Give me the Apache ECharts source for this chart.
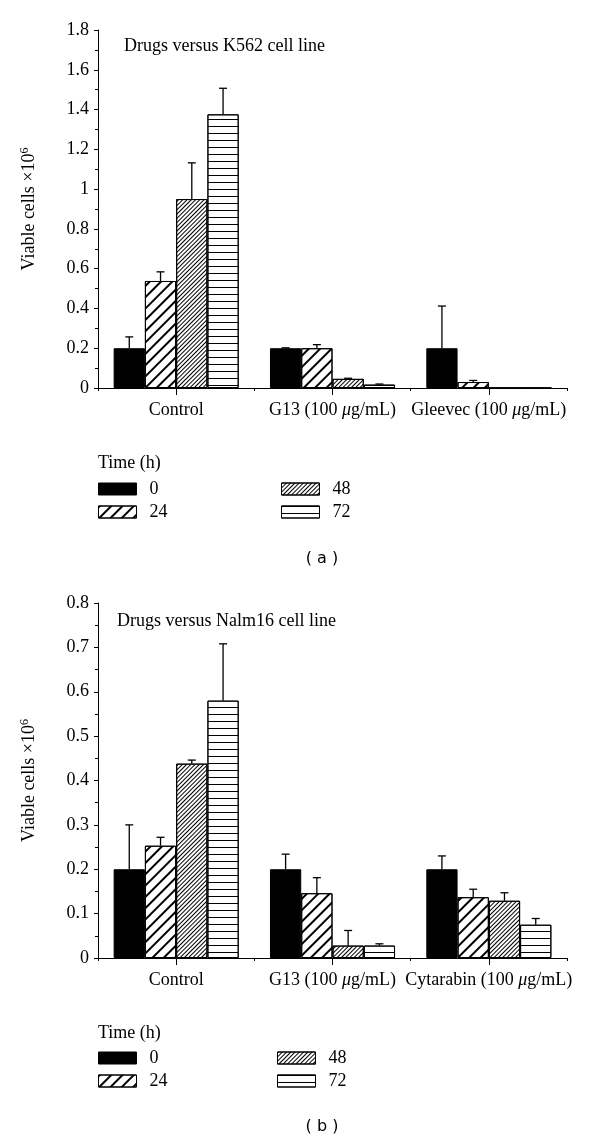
<!DOCTYPE html>
<html><head><meta charset="utf-8">
<script src="https://cdn.jsdelivr.net/npm/echarts@6/dist/echarts.min.js"></script>
<style>html,body{margin:0;padding:0;background:#fff}#c{width:600px;height:1142px}</style>
</head><body><div id="c"></div>
<script>
// ---- data ----
const categoriesA = ['Control', 'G13 (100 μg/mL)', 'Gleevec (100 μg/mL)'];
const categoriesB = ['Control', 'G13 (100 μg/mL)', 'Cytarabin (100 μg/mL)'];
const timeLabels = ['0', '24', '48', '72'];

// panel (a): K562 — bar heights per time point
const a0  = [0.2,   0.2,   0.2];
const a24 = [0.538, 0.2,   0.03];
const a48 = [0.95,  0.046, 0];
const a72 = [1.376, 0.017, 0];
// panel (a): top of error bars
const aErr0  = [0.257, 0.202, 0.412];
const aErr24 = [0.584, 0.218, 0.038];
const aErr48 = [1.132, 0.049, 0];
const aErr72 = [1.507, 0.020, 0];

// panel (b): Nalm16 — bar heights per time point
const b0  = [0.2,   0.2,   0.2];
const b24 = [0.253, 0.146, 0.137];
const b48 = [0.438, 0.028, 0.129];
const b72 = [0.58,  0.028, 0.075];
// panel (b): top of error bars
const bErr0  = [0.3,   0.234, 0.23];
const bErr24 = [0.272, 0.181, 0.155];
const bErr48 = [0.446, 0.062, 0.147];
const bErr72 = [0.708, 0.032, 0.089];

const yAxisA = {min: 0, max: 1.8, interval: 0.2};
const yAxisB = {min: 0, max: 0.8, interval: 0.1};

// ---- styling ----
const SERIF = '"Liberation Serif", "Times New Roman", serif';
const FS = 18;
const styles = [
  {color: '#000', borderColor: '#000', borderWidth: 1},
  {color: '#fff', borderColor: '#000', borderWidth: 1,
   decal: {symbol: 'rect', symbolSize: 1, dashArrayX: [1, 0], dashArrayY: [2, 6], rotation: -Math.PI / 4, color: '#000'}},
  {color: '#fff', borderColor: '#000', borderWidth: 1,
   decal: {symbol: 'rect', symbolSize: 1, dashArrayX: [1, 0], dashArrayY: [1, 2], rotation: -Math.PI / 4, color: '#000'}},
  {color: '#fff', borderColor: '#000', borderWidth: 1,
   decal: {symbol: 'rect', symbolSize: 1, dashArrayX: [1, 0], dashArrayY: [1, 6], rotation: 0, color: '#000'}}
];

function catLabel(v) { return '{n|' + v.replace('μ', '}{i|μ}{n|') + '}'; }
const catRich = {n: {fontFamily: SERIF, fontSize: FS, color: '#000'}, i: {fontFamily: SERIF, fontSize: FS, fontStyle: 'italic', color: '#000'}};

function xAxes(gi, cats) {
  return [
    {type: 'category', gridIndex: gi, data: cats, boundaryGap: true,
     axisLine: {lineStyle: {color: '#000', width: 1}},
     axisTick: {show: true, length: 3, lineStyle: {color: '#000'}},
     axisLabel: {interval: 0, margin: 13, formatter: catLabel, rich: catRich}},
    {type: 'category', gridIndex: gi, position: 'bottom', data: ['', '', '', '', '', '', ''], boundaryGap: false,
     axisLine: {show: false}, axisLabel: {show: false},
     axisTick: {show: true, length: 7, interval: (i) => i % 2 === 1, lineStyle: {color: '#000'}}}
  ];
}
function yAx(gi, cfg) {
  return {type: 'value', gridIndex: gi, min: cfg.min, max: cfg.max, interval: cfg.interval,
    name: '{n|Viable cells ×10}{s|6}', nameLocation: 'middle', nameGap: 58, nameRotate: 90,
    nameTextStyle: {rich: {n: {fontFamily: SERIF, fontSize: FS, color: '#000'}, s: {fontFamily: SERIF, fontSize: 12, color: '#000', padding: [0, 0, 9, 0]}}},
    axisLine: {show: true, lineStyle: {color: '#000', width: 1}},
    axisTick: {show: true, length: 4, lineStyle: {color: '#000'}},
    minorTick: {show: true, splitNumber: 2, length: 3, lineStyle: {color: '#000'}},
    splitLine: {show: false},
    axisLabel: {fontFamily: SERIF, fontSize: FS, color: '#000', margin: 9}};
}

function barSeries(xi, yi, vals, k) {
  return {type: 'bar', name: timeLabels[k], xAxisIndex: xi, yAxisIndex: yi, data: vals,
    barGap: '0%', barCategoryGap: '20%', itemStyle: styles[k], silent: true, z: 2};
}
function errSeries(xi, yi, vals, errs, k) {
  return {type: 'custom', xAxisIndex: xi, yAxisIndex: yi, z: 5, silent: true,
    data: vals.map((v, i) => [i, v, errs[i]]),
    renderItem(params, api) {
      const ci = api.value(0), v = api.value(1), e = api.value(2);
      if (!(e > v)) return null;
      const base = api.coord([ci, v]);
      const top = api.coord([ci, e]);
      const bw = api.size([1, 0])[0] * 0.8 / 4;
      const x = base[0] + (k - 1.5) * bw;
      return {type: 'group', children: [
        {type: 'line', shape: {x1: x, y1: base[1], x2: x, y2: top[1]}, style: {stroke: '#000', lineWidth: 1.3}},
        {type: 'line', shape: {x1: x - 4, y1: top[1], x2: x + 4, y2: top[1]}, style: {stroke: '#000', lineWidth: 1.3}}
      ]};
    }};
}

const A = [a0, a24, a48, a72], AE = [aErr0, aErr24, aErr48, aErr72];
const B = [b0, b24, b48, b72], BE = [bErr0, bErr24, bErr48, bErr72];
const series = [];
A.forEach((v, k) => series.push(barSeries(0, 0, v, k)));
A.forEach((v, k) => series.push(errSeries(0, 0, v, AE[k], k)));
B.forEach((v, k) => series.push(barSeries(2, 1, v, k)));
B.forEach((v, k) => series.push(errSeries(2, 1, v, BE[k], k)));

function legend(left, top, data) {
  return {left: left, top: top, orient: 'vertical', data: data, icon: 'rect', padding: 0,
    itemWidth: 38, itemHeight: 12, itemGap: 5, selectedMode: false,
    itemStyle: {borderWidth: 1, borderColor: '#000'},
    textStyle: {fontFamily: SERIF, fontSize: FS, color: '#000', padding: [0, 0, 0, 8]}};
}
const tStyle = {fontFamily: SERIF, fontSize: FS, fontWeight: 'normal', color: '#000'};
const capStyle = {fontFamily: '"DejaVu Sans", sans-serif', fontSize: 16, fontWeight: 'normal', color: '#000'};

const option = {
  animation: false,
  backgroundColor: '#fff',
  title: [
    {text: 'Drugs versus K562 cell line', left: 124, top: 37, padding: 0, textStyle: tStyle},
    {text: 'Time (h)', left: 98, top: 454, padding: 0, textStyle: tStyle},
    {text: '( a )', left: 322, top: 559, textAlign: 'center', textVerticalAlign: 'middle', padding: 0, textStyle: capStyle},
    {text: 'Drugs versus Nalm16 cell line', left: 117, top: 612, padding: 0, textStyle: tStyle},
    {text: 'Time (h)', left: 98, top: 1024, padding: 0, textStyle: tStyle},
    {text: '( b )', left: 322, top: 1127, textAlign: 'center', textVerticalAlign: 'middle', padding: 0, textStyle: capStyle}
  ],
  legend: [
    legend(98, 480, ['0', '24']),
    legend(281, 480, ['48', '72']),
    legend(98, 1049, ['0', '24']),
    legend(277, 1049, ['48', '72'])
  ],
  grid: [
    {left: 98, width: 469, top: 30, height: 358},
    {left: 98, width: 469, top: 603, height: 355}
  ],
  xAxis: [...xAxes(0, categoriesA), ...xAxes(1, categoriesB)],
  yAxis: [yAx(0, yAxisA), yAx(1, yAxisB)],
  series: series
};
const chart = echarts.init(document.getElementById('c'), null, {renderer: 'canvas'});
chart.setOption(option);
</script>
</body></html>
